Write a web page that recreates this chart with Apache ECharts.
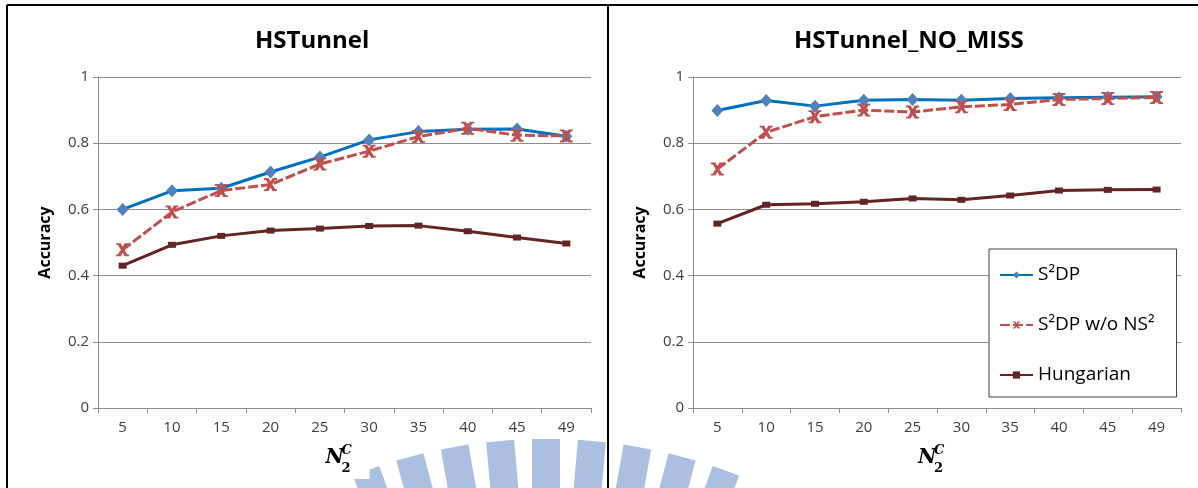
<!DOCTYPE html>
<html>
<head>
<meta charset="utf-8">
<title>HSTunnel accuracy</title>
<script src="https://cdn.jsdelivr.net/npm/echarts@6.0.0/dist/echarts.min.js"></script>
<style>
  html, body { margin: 0; padding: 0; background: #fff; }
  #chart { width: 1198px; height: 488px; }
</style>
</head>
<body>
<div id="chart"></div>
<script>
// values
var categories = ['5', '10', '15', '20', '25', '30', '35', '40', '45', '49'];
var seriesNames = ['S\u00b2DP', 'S\u00b2DP w/o NS\u00b2', 'Hungarian'];
var yTicks = [0, 0.2, 0.4, 0.6, 0.8, 1];

var tunnelS2dp = [0.600, 0.656, 0.664, 0.713, 0.758, 0.810, 0.835, 0.842, 0.843, 0.821];
var tunnelNoNs = [0.478, 0.592, 0.657, 0.675, 0.737, 0.776, 0.820, 0.845, 0.824, 0.822];
var tunnelHung = [0.430, 0.493, 0.520, 0.536, 0.542, 0.550, 0.551, 0.534, 0.515, 0.497];

var missS2dp = [0.899, 0.929, 0.912, 0.930, 0.932, 0.930, 0.935, 0.937, 0.939, 0.940];
var missNoNs = [0.722, 0.833, 0.880, 0.900, 0.894, 0.910, 0.917, 0.932, 0.935, 0.938];
var missHung = [0.557, 0.614, 0.617, 0.623, 0.633, 0.629, 0.642, 0.657, 0.659, 0.660];

// watermark fan behind the x axis names (degrees)
var fanAngles = [20, 15, 10, 5, 0, -5, -10, -15, -20];

var FONT = '"Open Sans", "Liberation Sans", sans-serif';
var GRID_COLOR = '#8f8f8f';
// x marker with little serifs, like the spreadsheet one
var CROSS = 'path://M0,0 L3.6,0 L3.6,1.4 L0,1.4 Z M6.4,0 L10,0 L10,1.4 L6.4,1.4 Z ' +
  'M0.6,0 L3.4,0 L9.4,10 L6.6,10 Z M6.6,0 L9.4,0 L3.4,10 L0.6,10 Z ' +
  'M0,8.6 L3.6,8.6 L3.6,10 L0,10 Z M6.4,8.6 L10,8.6 L10,10 L6.4,10 Z';

var grids = [
  {left: 98, top: 77, width: 493, height: 331},
  {left: 693, top: 77, width: 488, height: 331}
];

function xAxisFor(idx) {
  return {
    type: 'category', gridIndex: idx, data: categories, boundaryGap: true,
    axisLine: {lineStyle: {color: GRID_COLOR, width: 1}},
    axisTick: {show: true, length: 5, lineStyle: {color: GRID_COLOR}},
    axisLabel: {color: '#404040', fontFamily: FONT, fontSize: 15, margin: 12}
  };
}

function yAxisFor(idx) {
  return {
    type: 'value', gridIndex: idx, min: yTicks[0], max: yTicks[yTicks.length - 1], interval: 0.2,
    name: 'Accuracy', nameLocation: 'middle', nameRotate: 90, nameGap: 45,
    nameTextStyle: {color: '#000', fontFamily: FONT, fontSize: 16, fontWeight: 'bold'},
    axisLine: {show: true, lineStyle: {color: GRID_COLOR, width: 1}},
    axisTick: {show: true, length: 5, lineStyle: {color: GRID_COLOR}},
    axisLabel: {color: '#404040', fontFamily: FONT, fontSize: 15, margin: 9},
    splitLine: {show: true, lineStyle: {color: GRID_COLOR, width: 1}}
  };
}

function lineSeries(kind, idx, data) {
  var s = {
    type: 'line', name: seriesNames[kind], xAxisIndex: idx, yAxisIndex: idx, data: data,
    showSymbol: true, animation: false, z: 2 + kind
  };
  if (kind === 0) {
    s.symbol = 'diamond'; s.symbolSize = [12, 13];
    s.itemStyle = {color: '#4f81bd'};
    s.lineStyle = {color: '#0070c0', width: 3};
  } else if (kind === 1) {
    s.symbol = CROSS; s.symbolSize = [13, 13];
    s.itemStyle = {color: '#c0504d'};
    s.lineStyle = {color: '#c0504d', width: 3, type: [10, 3]};
  } else {
    s.symbol = 'rect'; s.symbolSize = [8, 6];
    s.itemStyle = {color: '#632523'};
    s.lineStyle = {color: '#632523', width: 3};
  }
  return s;
}

// N_2^C label made of three small texts on a white patch
function nLabel(cx) {
  var x = cx - 19;
  return {
    type: 'group', z: 10,
    children: [
      {type: 'rect', shape: {x: x - 12, y: 437, width: 56, height: 42}, style: {fill: '#fff'}},
      {type: 'text', x: x, y: 468, style: {text: 'N', font: 'italic bold 20px "DejaVu Serif", serif', fill: '#000', textVerticalAlign: 'bottom'}},
      {type: 'text', x: x + 16, y: 457, style: {text: 'C', font: 'italic bold 13px "DejaVu Serif", serif', fill: '#000', textVerticalAlign: 'bottom'}},
      {type: 'text', x: x + 16, y: 475, style: {text: '2', font: 'bold 13px "DejaVu Serif", serif', fill: '#000', textVerticalAlign: 'bottom'}}
    ]
  };
}

function fanBars() {
  var items = [];
  for (var i = 0; i < fanAngles.length; i++) {
    items.push({
      type: 'rect', x: 546, y: 965, rotation: fanAngles[i] * Math.PI / 180,
      shape: {x: -14, y: -526, width: 28, height: 140},
      style: {fill: '#abbfe0'}, z: 0
    });
  }
  return items;
}

var graphics = fanBars().concat([
  nLabel((grids[0].left * 2 + grids[0].width) / 2),
  nLabel((grids[1].left * 2 + grids[1].width) / 2),
  {type: 'line', z: 20, shape: {x1: 7, y1: 5, x2: 1198, y2: 5}, style: {stroke: '#000', lineWidth: 2}},
  {type: 'line', z: 20, shape: {x1: 7, y1: 5, x2: 7, y2: 488}, style: {stroke: '#000', lineWidth: 2}},
  {type: 'line', z: 20, shape: {x1: 608, y1: 5, x2: 608, y2: 488}, style: {stroke: '#000', lineWidth: 2}}
]);

var chart = echarts.init(document.getElementById('chart'), null, {renderer: 'canvas'});
chart.setOption({
  backgroundColor: '#fff',
  animation: false,
  title: [
    {text: 'HSTunnel', left: 250, top: 24, textStyle: {fontFamily: FONT, fontSize: 24, fontWeight: 'bold', color: '#000'}},
    {text: 'HSTunnel_NO_MISS', left: 789, top: 24, textStyle: {fontFamily: FONT, fontSize: 24, fontWeight: 'bold', color: '#000'}}
  ],
  legend: {
    data: seriesNames, orient: 'vertical', left: 989, top: 249,
    itemWidth: 33, itemHeight: 9, itemGap: 30,
    padding: [16, 22, 12, 10],
    backgroundColor: '#fff', borderColor: '#404040', borderWidth: 1,
    textStyle: {fontFamily: FONT, fontSize: 19, lineHeight: 20, color: '#000'},
    z: 8
  },
  grid: grids,
  xAxis: [xAxisFor(0), xAxisFor(1)],
  yAxis: [yAxisFor(0), yAxisFor(1)],
  series: [
    lineSeries(0, 0, tunnelS2dp), lineSeries(1, 0, tunnelNoNs), lineSeries(2, 0, tunnelHung),
    lineSeries(0, 1, missS2dp), lineSeries(1, 1, missNoNs), lineSeries(2, 1, missHung)
  ],
  graphic: graphics
});
</script>
</body>
</html>
